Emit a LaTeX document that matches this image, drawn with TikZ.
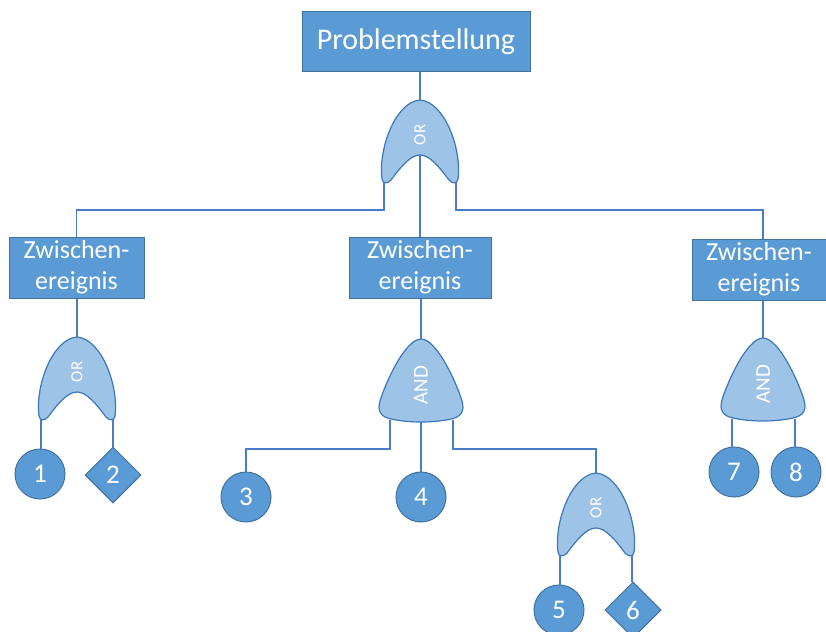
\documentclass[tikz,border=0pt]{standalone}
\usepackage{fontspec}
\setmainfont{Carlito}
\usetikzlibrary{shapes.geometric}

\definecolor{boxblue}{HTML}{5B9BD5}
\definecolor{boxline}{HTML}{41719C}
\definecolor{gatefill}{HTML}{9DC3E6}
\definecolor{gateline}{HTML}{3A78BA}
\definecolor{wire}{HTML}{4A7CC8}

\begin{document}
\begin{tikzpicture}[x=1pt,y=-1pt,
	event/.style={draw=boxline,line width=1pt,fill=boxblue,text=white,align=center,inner sep=0pt},
	basic/.style={circle,draw=boxline,line width=1pt,fill=boxblue,text=white,minimum size=50pt,inner sep=0pt,font=\fontsize{27}{27}\selectfont},
	undev/.style={diamond,draw=boxline,line width=1pt,fill=boxblue,text=white,minimum size=56pt,inner sep=0pt,font=\fontsize{27}{27}\selectfont},
	gate/.style={draw=gateline,line width=1.2pt,fill=gatefill},
	gatetext/.style={text=white,rotate=90,inner sep=0pt},
	wire/.style={draw=wire,line width=1.2pt},
	pics/orgate/.style={code={
		\draw[gate] (0,0) .. controls (-25,2) and (-42,50) .. (-38,79) .. controls (-37,84) and (-33,84) .. (-29,80) .. controls (-20,68) and (-10,55) .. (0,55) .. controls (10,55) and (20,68) .. (29,80) .. controls (33,84) and (37,84) .. (38,79) .. controls (42,50) and (25,2) .. (0,0) -- cycle;
		\node[gatetext,font=\fontsize{17}{17}\selectfont] at (0,35) {OR};
		\coordinate (-top) at (0,0);
		\coordinate (-mid) at (0,55);
		\coordinate (-l) at (-36,82);
		\coordinate (-r) at (36,82);
	}},
	pics/andgate/.style={code={
		\draw[gate] (0,0) .. controls (-16,0) and (-36,45) .. (-41,62) .. controls (-44,72) and (-40,78) .. (-30,80) .. controls (-12,84) and (12,84) .. (30,80) .. controls (40,78) and (44,72) .. (41,62) .. controls (36,45) and (16,0) .. (0,0) -- cycle;
		\node[gatetext,font=\fontsize{21}{21}\selectfont] at (0,46) {AND};
		\coordinate (-top) at (0,0);
		\coordinate (-bot) at (0,83);
		\coordinate (-l) at (-31,81);
		\coordinate (-r) at (32,81);
	}}]
	\useasboundingbox (0,0) rectangle (826,631);

	%TOP
	\node[event,minimum width=228pt,minimum height=60pt,font=\fontsize{30}{34}\selectfont] (top) at (416,42) {Problemstellung};
	\pic (g0) at (420,100) {orgate};
	\coordinate (split) at (420,210);

	%EVENTS
	\node[event,minimum width=135pt,minimum height=61pt,font=\fontsize{26}{31}\selectfont] (z1) at (76.5,267.5) {Zwischen-\\ereignis};
	\node[event,minimum width=142pt,minimum height=61pt,font=\fontsize{26}{31}\selectfont] (z2) at (420,267.5) {Zwischen-\\ereignis};
	\node[event,minimum width=134pt,minimum height=61pt,font=\fontsize{26}{31}\selectfont] (z3) at (759,269.5) {Zwischen-\\ereignis};

	%GATES
	\pic (g1) at (77,337) {orgate};
	\pic (g2) at (421,339) {andgate};
	\pic (g3) at (763,338) {andgate};
	\pic (g4) at (596,473) {orgate};
	\coordinate (split2) at (421,449);

	%BASIC EVENTS
	\node[basic] (e1) at (40,474) {1};
	\node[undev] (e2) at (113,475) {2};
	\node[basic] (e3) at (246,497) {3};
	\node[basic] (e4) at (421,497) {4};
	\node[basic] (e5) at (559,610) {5};
	\node[undev] (e6) at (633,610) {6};
	\node[basic] (e7) at (734,472) {7};
	\node[basic] (e8) at (796,472) {8};

	%WIRES
	\draw[wire] (g0-top) -- (g0-top |- top.south);
	\draw[wire] (g0-l) -- (g0-l |- split) -| (z1.north);
	\draw[wire] (g0-mid) -- (z2.north);
	\draw[wire] (g0-r) -- (g0-r |- split) -| (g3-top |- z3.north);

	\draw[wire] (z1.south -| g1-top) -- (g1-top);
	\draw[wire] (g1-l) -- (g1-l |- e1.north);
	\draw[wire] (g1-r) -- (e2.north);

	\draw[wire] (z2.south -| g2-top) -- (g2-top);
	\draw[wire] (g2-l) -- (g2-l |- split2) -| (e3.north);
	\draw[wire] (g2-bot) -- (e4.north);
	\draw[wire] (g2-r) -- (g2-r |- split2) -| (g4-top);

	\draw[wire] (g4-l) -- (g4-l |- e5.north);
	\draw[wire] (g4-r) -- (g4-r |- e6.north);

	\draw[wire] (z3.south -| g3-top) -- (g3-top);
	\draw[wire] (g3-l) -- (g3-l |- e7.north);
	\draw[wire] (g3-r) -- (g3-r |- e8.north);
\end{tikzpicture}
\end{document}
